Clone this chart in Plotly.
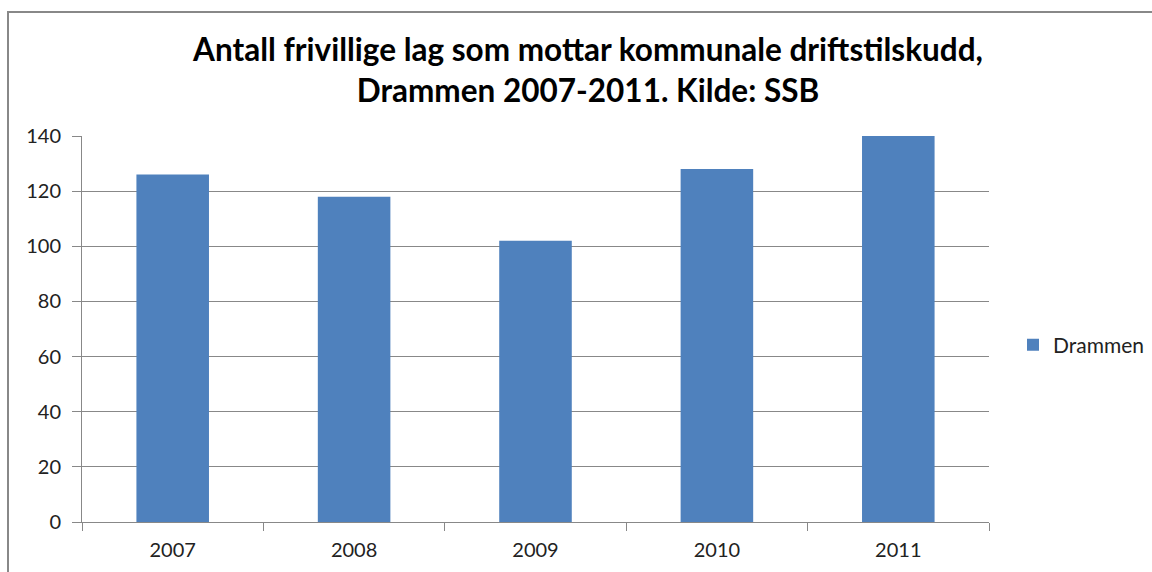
import plotly.graph_objects as go

years = ["2007", "2008", "2009", "2010", "2011"]
values = [126, 118, 102, 128, 140]
series_name = "Drammen"
title_text = "Antall frivillige lag som mottar kommunale driftstilskudd,<br>Drammen 2007-2011. Kilde: SSB"
y_ticks = [0, 20, 40, 60, 80, 100, 120, 140]

L, R, T, B = 82, 163, 136, 50
W, H = 1152, 572
pw, ph = W - L - R, H - T - B

def px(x):
    return (x - L) / pw

def py(y):
    return (H - B - y) / ph

fig = go.Figure()
fig.add_trace(go.Bar(
    x=years, y=values, name=series_name,
    marker=dict(color="#4F81BD", line=dict(color="#4F81BD", width=0)),
    showlegend=True,
))

grid = "#888888"
fig.update_layout(
    width=W, height=H,
    margin=dict(l=L, r=R, t=T, b=B, autoexpand=False),
    paper_bgcolor="white", plot_bgcolor="white",
    bargap=0.6,
    font=dict(family="Lato, Carlito, sans-serif", size=20, color="#222222"),
    title=dict(text="<b>" + title_text + "</b>", xref="container", x=588 / W,
               xanchor="center", yref="container", y=1 - 61 / H, yanchor="middle",
               font=dict(size=31.5, color="black", family="Lato, sans-serif")),
    showlegend=True,
    legend=dict(x=px(1150), y=py(345), xanchor="right", yanchor="middle",
                font=dict(size=21, color="#222222"), itemwidth=30,
                bgcolor="rgba(0,0,0,0)"),
    xaxis=dict(
        type="category", showgrid=False, showline=True, linecolor=grid, linewidth=1,
        ticks="outside", tickson="boundaries", ticklen=8, tickcolor=grid,
        tickfont=dict(size=20), mirror=False, ticklabelstandoff=10,
    ),
    yaxis=dict(
        range=[0, 140], tickvals=y_ticks, showgrid=True, gridcolor=grid, gridwidth=1,
        showline=True, linecolor=grid, linewidth=1, ticks="outside", ticklen=9,
        tickcolor=grid, tickfont=dict(size=20), zeroline=False, ticklabelstandoff=7,
    ),
    shapes=[dict(type="rect", xref="paper", yref="paper",
                 x0=px(8), x1=px(1170), y0=py(590), y1=py(12),
                 line=dict(color="#888888", width=2), fillcolor="rgba(0,0,0,0)",
                 layer="below")],
)

fig.write_html("out.html", config={"displayModeBar": False},
               post_script="document.body.style.margin='0';document.body.style.overflow='hidden';")
